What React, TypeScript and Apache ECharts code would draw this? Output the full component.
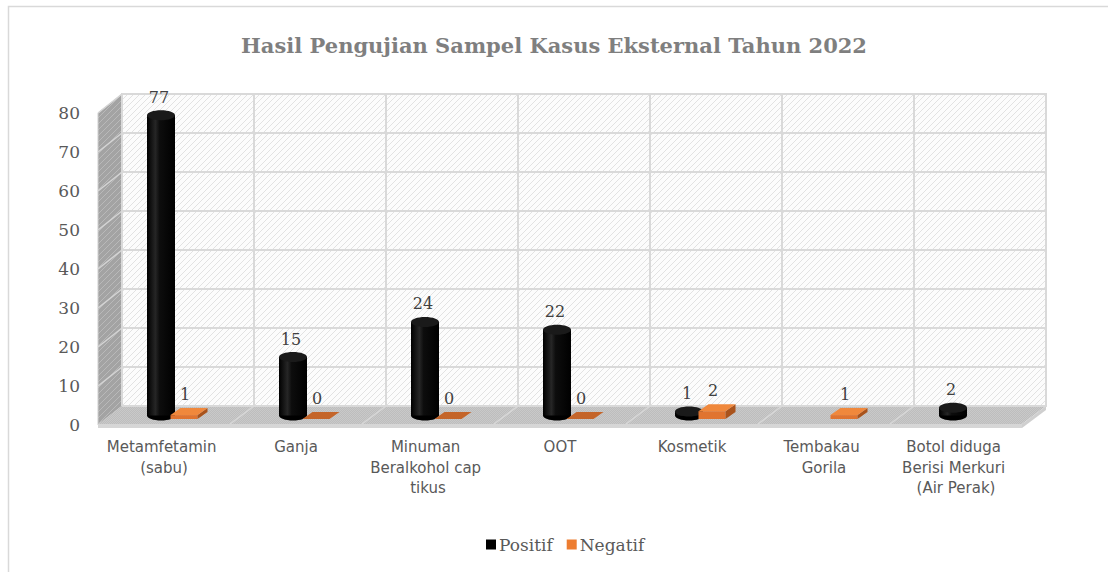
import React, { useEffect, useRef } from "react";
import * as echarts from "echarts";

// ---------- data ----------
const chartTitle = "Hasil Pengujian Sampel Kasus Eksternal Tahun 2022";
const categories = [
  "Metamfetamin (sabu)",
  "Ganja",
  "Minuman Beralkohol cap tikus",
  "OOT",
  "Kosmetik",
  "Tembakau Gorila",
  "Botol diduga Berisi Merkuri (Air Perak)",
];
const seriesNames = ["Positif", "Negatif"];
const positif: (number | null)[] = [77, 15, 24, 22, 1, null, 2];
const negatif: (number | null)[] = [1, 0, 0, 0, 2, 1, null];
const yMin = 0;
const yMax = 80;
const yInterval = 10;

// ---------- layout ----------
const PLOT_W = 924;
const PLOT_H = 312;
const FRONT_X = 98;
const FRONT_TOP = 113;
const DEPTH_X = 24;
const DEPTH_Y = -19;
const BACK_X = FRONT_X + DEPTH_X;
const BACK_TOP = FRONT_TOP + DEPTH_Y;
const MID_X = FRONT_X + DEPTH_X / 2;
const MID_TOP = FRONT_TOP + DEPTH_Y / 2;

const SERIF = "DejaVu Serif";
const SANS = "DejaVu Sans";

function hatch(bg: string, fg: string, size = 6, lw = 1) {
  const c = document.createElement("canvas");
  c.width = size;
  c.height = size;
  const g = c.getContext("2d")!;
  g.fillStyle = bg;
  g.fillRect(0, 0, size, size);
  g.strokeStyle = fg;
  g.lineWidth = lw;
  g.beginPath();
  g.moveTo(0, size);
  g.lineTo(size, 0);
  g.moveTo(-size / 2, size / 2);
  g.lineTo(size / 2, -size / 2);
  g.moveTo(size / 2, size * 1.5);
  g.lineTo(size * 1.5, size / 2);
  g.stroke();
  return { image: c, repeat: "repeat", imageWidth: size, imageHeight: size } as any;
}

function speckle(a: string, b: string) {
  const c = document.createElement("canvas");
  c.width = 2;
  c.height = 2;
  const g = c.getContext("2d")!;
  g.fillStyle = a;
  g.fillRect(0, 0, 2, 2);
  g.fillStyle = b;
  g.fillRect(0, 0, 1, 1);
  g.fillRect(1, 1, 1, 1);
  return { image: c, repeat: "repeat", imageWidth: 2, imageHeight: 2 } as any;
}

export default function App() {
  const ref = useRef<HTMLDivElement>(null);

  useEffect(() => {
    document.body.style.margin = "0";
    if (!ref.current) return;
    const chart = echarts.init(ref.current, undefined, { renderer: "svg" });

    const nTicks = (yMax - yMin) / yInterval;
    const step = PLOT_H / nTicks;
    const catW = PLOT_W / categories.length;
    const frontZero = FRONT_TOP + PLOT_H;
    const backZero = BACK_TOP + PLOT_H;

    const decor: any[] = [];
    // outer border
    decor.push({
      type: "rect",
      shape: { x: 8.5, y: 6.5, width: 1300, height: 800 },
      style: { fill: "none", stroke: "#d9d9d9", lineWidth: 1.5 },
      silent: true,
    });
    // side wall
    decor.push({
      type: "polygon",
      shape: {
        points: [
          [FRONT_X, FRONT_TOP],
          [BACK_X, BACK_TOP],
          [BACK_X, backZero],
          [FRONT_X, frontZero],
        ],
      },
      style: { fill: hatch("#a3a3a3", "#b9b9b9", 6, 1), stroke: "#cfcfcf", lineWidth: 1 },
      silent: true,
    });
    for (let k = 1; k <= nTicks; k++) {
      decor.push({
        type: "line",
        shape: { x1: FRONT_X, y1: frontZero - k * step, x2: BACK_X, y2: backZero - k * step },
        style: { stroke: "#d4d4d4", lineWidth: 1.5 },
        silent: true,
      });
    }
    // floor
    decor.push({
      type: "polygon",
      shape: {
        points: [
          [BACK_X, backZero],
          [BACK_X + PLOT_W, backZero],
          [FRONT_X + PLOT_W, frontZero - 1],
          [FRONT_X, frontZero - 1],
        ],
      },
      style: { fill: speckle("#bdbdbd", "#c9c9c9") },
      silent: true,
    });
    decor.push({
      type: "polygon",
      shape: {
        points: [
          [FRONT_X, frontZero - 1],
          [FRONT_X + PLOT_W, frontZero - 1],
          [FRONT_X + PLOT_W, frontZero + 3],
          [FRONT_X, frontZero + 3],
        ],
      },
      style: { fill: "#d6d6d6" },
      silent: true,
    });
    decor.push({
      type: "polygon",
      shape: {
        points: [
          [FRONT_X + PLOT_W, frontZero - 1],
          [BACK_X + PLOT_W, backZero],
          [BACK_X + PLOT_W, backZero + 4],
          [FRONT_X + PLOT_W, frontZero + 3],
        ],
      },
      style: { fill: "#cfcfcf" },
      silent: true,
    });
    for (let k = 1; k < categories.length; k++) {
      decor.push({
        type: "line",
        shape: { x1: BACK_X + k * catW, y1: backZero, x2: FRONT_X + k * catW, y2: frontZero - 1 },
        style: { stroke: "#d8d8d8", lineWidth: 1.5 },
        silent: true,
      });
    }

    const cylinder = (params: any, api: any) => {
      const v = api.value(1);
      if (v == null || isNaN(v)) return null;
      const idx = api.value(0);
      const top = api.coord([idx, v]);
      const zero = api.coord([idx, 0]);
      const c = top[0] - 15;
      const w = 28;
      const rx = w / 2;
      const ry = 5;
      const yTop = top[1];
      const yBot = zero[1];
      const grad = new echarts.graphic.LinearGradient(0, 0, 1, 0, [
        { offset: 0, color: "#000000" },
        { offset: 0.3, color: "#262626" },
        { offset: 0.45, color: "#0d0d0d" },
        { offset: 1, color: "#000000" },
      ]);
      return {
        type: "group",
        children: [
          { type: "ellipse", shape: { cx: c, cy: yBot, rx, ry }, style: { fill: "#000" } },
          {
            type: "rect",
            shape: { x: c - rx, y: yTop, width: w, height: Math.max(0, yBot - yTop) },
            style: { fill: grad },
          },
          { type: "ellipse", shape: { cx: c, cy: yTop, rx, ry }, style: { fill: "#1a1a1a" } },
          {
            type: "text",
            style: {
              text: String(v),
              x: c - 2,
              y: yTop - 18,
              align: "center",
              verticalAlign: "middle",
              fontFamily: SERIF,
              fontSize: 16,
              fill: "#404040",
            },
          },
        ],
      };
    };

    const box = (params: any, api: any) => {
      const v = api.value(1);
      if (v == null || isNaN(v)) return null;
      const idx = api.value(0);
      const top = api.coord([idx, v]);
      const zero = api.coord([idx, 0]);
      const w = 27;
      const x0 = top[0] + 8 - w / 2;
      const yb = zero[1] + 3.5;
      const yf = top[1] + 3.5;
      const dx = 10;
      const dy = 7;
      const children: any[] = [];
      if (yb - yf > 0.5) {
        children.push({
          type: "polygon",
          shape: { points: [[x0, yf], [x0 + w, yf], [x0 + w, yb], [x0, yb]] },
          style: { fill: "#e07430" },
        });
        children.push({
          type: "polygon",
          shape: { points: [[x0 + w, yf], [x0 + w + dx, yf - dy], [x0 + w + dx, yb - dy], [x0 + w, yb]] },
          style: { fill: "#a9531c" },
        });
      }
      children.push({
        type: "polygon",
        shape: { points: [[x0, yf], [x0 + w, yf], [x0 + w + dx, yf - dy], [x0 + dx, yf - dy]] },
        style: { fill: v > 0 ? "#f0883c" : "#c4652a" },
      });
      children.push({
        type: "text",
        style: {
          text: String(v),
          x: x0 + w / 2 + 1,
          y: yf - 21,
          align: "center",
          verticalAlign: "middle",
          fontFamily: SERIF,
          fontSize: 16,
          fill: "#404040",
        },
      });
      return { type: "group", children };
    };

    const toData = (arr: (number | null)[]) => arr.map((v, i) => [i, v == null ? NaN : v]);

    const hiddenCat = (gi: number) => ({
      type: "category",
      gridIndex: gi,
      data: categories,
      axisLine: { show: false },
      axisTick: { show: false },
      axisLabel: { show: false },
      splitLine: { show: false },
    });
    const hiddenVal = (gi: number) => ({
      type: "value",
      gridIndex: gi,
      min: yMin,
      max: yMax,
      interval: yInterval,
      axisLine: { show: false },
      axisTick: { show: false },
      axisLabel: { show: false },
      splitLine: { show: false },
    });

    chart.setOption({
      animation: false,
      backgroundColor: "#ffffff",
      title: {
        text: chartTitle,
        left: "center",
        top: 30,
        textStyle: { fontFamily: SERIF, fontWeight: "bold", fontSize: 21, color: "#7f7f7f" },
      },
      legend: {
        data: seriesNames,
        left: 481,
        top: 531,
        icon: "rect",
        itemWidth: 10,
        itemHeight: 10,
        itemGap: 14,
        textStyle: { fontFamily: SERIF, fontSize: 17, color: "#595959", padding: [0, 0, 0, -2] },
      },
      graphic: { elements: decor },
      grid: [
        {
          left: BACK_X,
          top: BACK_TOP,
          width: PLOT_W,
          height: PLOT_H,
          show: true,
          backgroundColor: hatch("#fcfcfc", "#e2e2e2", 6, 1),
          borderColor: "#d9d9d9",
          borderWidth: 2,
        },
        { left: FRONT_X, top: FRONT_TOP, width: PLOT_W, height: PLOT_H },
        { left: MID_X, top: MID_TOP, width: PLOT_W, height: PLOT_H },
      ],
      xAxis: [
        {
          ...hiddenCat(0),
          splitLine: { show: true, interval: 0, lineStyle: { color: "#d9d9d9", width: 2 } },
        },
        {
          ...hiddenCat(1),
          axisLabel: {
            show: true,
            interval: 0,
            margin: 12,
            width: 122,
            overflow: "break",
            lineHeight: 20.5,
            fontFamily: SANS,
            fontSize: 15,
            color: "#595959",
          },
        },
        hiddenCat(2),
      ],
      yAxis: [
        {
          ...hiddenVal(0),
          splitLine: { show: true, lineStyle: { color: "#d9d9d9", width: 2 } },
        },
        {
          ...hiddenVal(1),
          axisLabel: { show: true, margin: 18, fontFamily: SERIF, fontSize: 17, color: "#595959" },
        },
        hiddenVal(2),
      ],
      series: [
        {
          name: seriesNames[0],
          type: "custom",
          xAxisIndex: 2,
          yAxisIndex: 2,
          itemStyle: { color: "#000000" },
          renderItem: cylinder,
          data: toData(positif),
          z: 5,
        },
        {
          name: seriesNames[1],
          type: "custom",
          xAxisIndex: 2,
          yAxisIndex: 2,
          itemStyle: { color: "#ed7d31" },
          renderItem: box,
          data: toData(negatif),
          z: 6,
        },
      ],
    });

    return () => chart.dispose();
  }, []);

  return <div ref={ref} style={{ width: 1108, height: 572 }} />;
}
